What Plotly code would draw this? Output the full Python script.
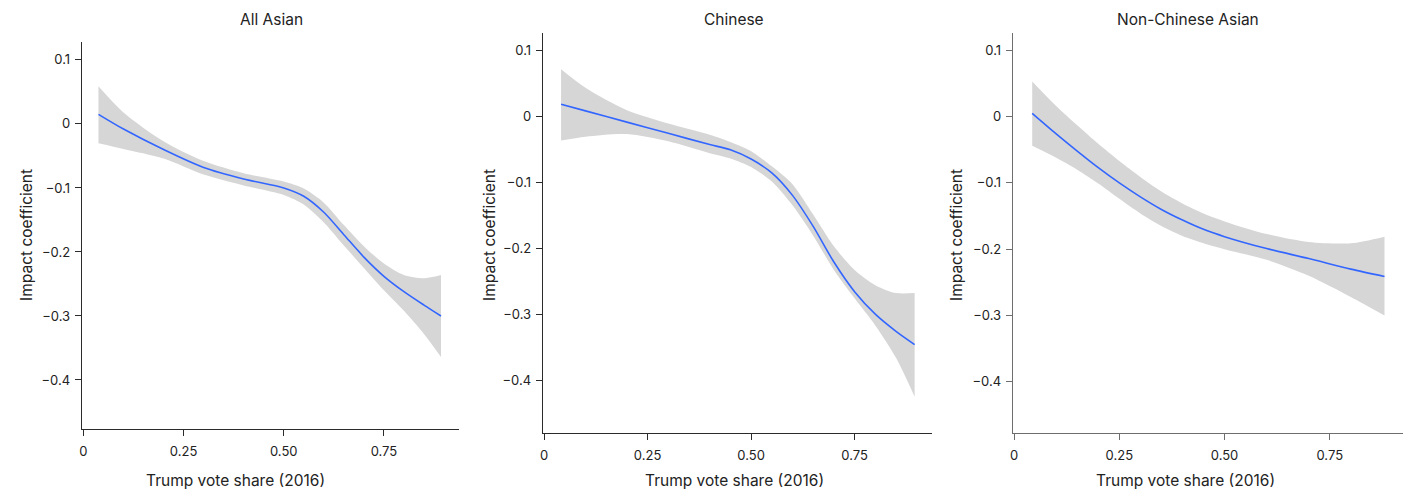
import plotly.graph_objects as go

# ---------------- data ----------------
titles = ["All Asian", "Chinese", "Non-Chinese Asian"]

x_all = [0.0375, 0.1, 0.2, 0.3, 0.4, 0.5, 0.55, 0.6, 0.65, 0.7, 0.75, 0.8, 0.85, 0.8925]
fit_all = [0.015, -0.008, -0.040, -0.068, -0.086, -0.100, -0.113, -0.138, -0.173, -0.208, -0.238, -0.262, -0.283, -0.300]
up_all = [0.059, 0.018, -0.027, -0.058, -0.077, -0.090, -0.101, -0.123, -0.158, -0.191, -0.218, -0.236, -0.241, -0.236]
lo_all = [-0.030, -0.039, -0.054, -0.079, -0.096, -0.111, -0.126, -0.154, -0.190, -0.225, -0.260, -0.292, -0.328, -0.364]

x_chn = [0.041, 0.1, 0.2, 0.3, 0.4, 0.45, 0.5, 0.55, 0.6, 0.65, 0.7, 0.75, 0.8, 0.85, 0.895]
fit_chn = [0.019, 0.009, -0.008, -0.025, -0.042, -0.050, -0.064, -0.085, -0.119, -0.166, -0.220, -0.265, -0.299, -0.325, -0.345]
up_chn = [0.072, 0.044, 0.010, -0.010, -0.027, -0.038, -0.052, -0.075, -0.102, -0.148, -0.196, -0.232, -0.255, -0.267, -0.267]
lo_chn = [-0.036, -0.030, -0.026, -0.037, -0.055, -0.063, -0.076, -0.098, -0.134, -0.180, -0.232, -0.275, -0.316, -0.365, -0.424]

x_non = [0.043, 0.1, 0.15, 0.2, 0.25, 0.3, 0.35, 0.4, 0.45, 0.5, 0.6, 0.7, 0.8, 0.88]
fit_non = [0.005, -0.026, -0.052, -0.077, -0.100, -0.121, -0.140, -0.156, -0.170, -0.181, -0.199, -0.214, -0.230, -0.241]
up_non = [0.053, 0.016, -0.013, -0.041, -0.067, -0.091, -0.113, -0.131, -0.146, -0.158, -0.177, -0.189, -0.191, -0.181]
lo_non = [-0.044, -0.062, -0.080, -0.101, -0.124, -0.146, -0.165, -0.180, -0.191, -0.200, -0.216, -0.240, -0.272, -0.300]

x_tickvals = [0, 0.25, 0.5, 0.75]
x_ticktext = ["0", "0.25", "0.50", "0.75"]
y_tickvals = [0.1, 0, -0.1, -0.2, -0.3, -0.4]
y_ticktext = ["0.1", "0", "\u22120.1", "\u22120.2", "\u22120.3", "\u22120.4"]

xlab = "Trump vote share (2016)"
ylab = "Impact coefficient"

# ---------------- figure ----------------
W, H = 1406, 490
FONT = "Inter, Roboto, sans-serif"
panels = [
    dict(x=x_all, fit=fit_all, up=up_all, lo=lo_all, xd=(79, 457), yd=(42, 429),
         xr=(-0.004, 0.9375), yr=(-0.4766, 0.128), tx=269, xlx=233, ylx=23, axc="#2b2b2b"),
    dict(x=x_chn, fit=fit_chn, up=up_chn, lo=lo_chn, xd=(541, 931), yd=(33, 433),
         xr=(-0.003, 0.937), yr=(-0.479, 0.127), tx=733, xlx=733, ylx=487, axc="#2b2b2b"),
    dict(x=x_non, fit=fit_non, up=up_non, lo=lo_non, xd=(1012, 1403), yd=(33, 433),
         xr=(-0.003, 0.924), yr=(-0.477, 0.126), tx=1188, xlx=1185, ylx=955, axc="#6e6e6e"),
]
series_titles = titles

fig = go.Figure()
annotations = []
layout = {}
for i, p in enumerate(panels):
    k = "" if i == 0 else str(i + 1)
    xa, ya = "x" + k, "y" + k
    fig.add_trace(go.Scatter(
        x=p["x"], y=p["up"], mode="lines",
        line=dict(width=0, color="rgba(0,0,0,0)", shape="spline", smoothing=0.8),
        hoverinfo="skip", showlegend=False, xaxis=xa, yaxis=ya))
    fig.add_trace(go.Scatter(
        x=p["x"], y=p["lo"], mode="lines", fill="tonexty", fillcolor="#d6d6d6",
        line=dict(width=0, color="rgba(0,0,0,0)", shape="spline", smoothing=0.8),
        hoverinfo="skip", showlegend=False, xaxis=xa, yaxis=ya))
    fig.add_trace(go.Scatter(
        x=p["x"], y=p["fit"], mode="lines",
        line=dict(color="#3366ff", width=1.6, shape="spline", smoothing=0.8),
        showlegend=False, xaxis=xa, yaxis=ya))
    axstyle = dict(showline=True, linecolor=p["axc"], linewidth=1.3, ticks="outside",
                   ticklen=6, tickwidth=1, tickcolor=p["axc"], showgrid=False, zeroline=False,
                   tickfont=dict(family=FONT, size=13, color="#222"))
    layout["xaxis" + k] = dict(axstyle, domain=[p["xd"][0] / W, p["xd"][1] / W],
                               range=list(p["xr"]), tickvals=x_tickvals, ticktext=x_ticktext,
                               anchor=ya, ticklabelstandoff=4)
    layout["yaxis" + k] = dict(axstyle, domain=[1 - p["yd"][1] / H, 1 - p["yd"][0] / H],
                               range=list(p["yr"]), tickvals=y_tickvals, ticktext=y_ticktext,
                               anchor=xa, ticklabelstandoff=2)
    annotations.append(dict(text=series_titles[i], x=p["tx"] / W, y=1 - 19 / H, xref="paper", yref="paper",
                            showarrow=False, font=dict(family=FONT, size=15.5, color="#222"),
                            xanchor="center", yanchor="middle"))
    annotations.append(dict(text=xlab, x=p["xlx"] / W, y=1 - 480 / H, xref="paper", yref="paper",
                            showarrow=False, font=dict(family=FONT, size=15.5, color="#222"),
                            xanchor="center", yanchor="middle"))
    annotations.append(dict(text=ylab, x=p["ylx"] / W, y=1 - 235 / H, xref="paper", yref="paper",
                            showarrow=False, textangle=-90, font=dict(family=FONT, size=15.5, color="#222"),
                            xanchor="center", yanchor="middle"))

fig.update_layout(width=W, height=H, margin=dict(l=0, r=0, t=0, b=0),
                  paper_bgcolor="white", plot_bgcolor="white",
                  annotations=annotations, **layout)
fig.write_html("out.html", config={"displayModeBar": False},
               post_script="document.body.style.margin='0';document.body.style.padding='0';")
